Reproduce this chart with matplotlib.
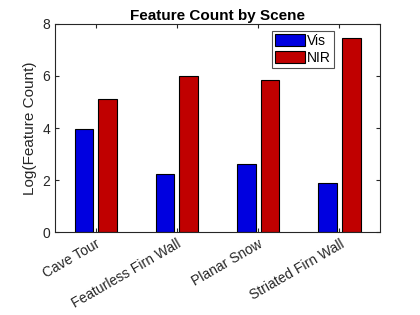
import matplotlib
matplotlib.use("Agg")
import matplotlib.pyplot as plt
import numpy as np

categories = ["Cave Tour", "Featurless Firn Wall", "Planar Snow", "Striated Firn Wall"]
vis = [3.96, 2.22, 2.60, 1.87]
nir = [5.13, 6.01, 5.86, 7.47]

plt.rcParams['font.family'] = ['Liberation Sans', 'DejaVu Sans']
fig = plt.figure(figsize=(4.2, 3.15), dpi=100)
ax = fig.add_axes([0.131, 0.263, 0.774, 0.661])
x = np.arange(1, len(categories) + 1)
w = 0.23
off = 0.145
ax.bar(x - off, vis, w, color="#0000e0", edgecolor="black", linewidth=0.8, label="Vis")
ax.bar(x + off, nir, w, color="#c00000", edgecolor="black", linewidth=0.8, label="NIR")
ax.set_xlim(0.5, 4.5)
ax.set_ylim(0, 8)
ax.set_yticks([0, 2, 4, 6, 8])
ax.set_xticks(x)
ax.set_xticklabels(categories, rotation=30, ha="right", rotation_mode="anchor")
ax.tick_params(direction="in", top=True, right=True, length=3, colors="#262626", labelsize=10)
for s in ax.spines.values():
    s.set_color("#262626")
    s.set_linewidth(0.8)
ax.set_ylabel("Log(Feature Count)", fontsize=11, color="#262626")
ax.set_title("Feature Count by Scene", fontsize=11, fontweight="bold", pad=3)
leg = ax.legend(loc="upper right", bbox_to_anchor=(0.858, 0.965), fancybox=False, edgecolor="#262626",
                handlelength=2.2, handleheight=1.0, handletextpad=0.15, borderpad=0.2,
                labelspacing=0.2, fontsize=10, borderaxespad=0)
leg.get_frame().set_linewidth(0.8)
fig.savefig("out.png", dpi=100)
